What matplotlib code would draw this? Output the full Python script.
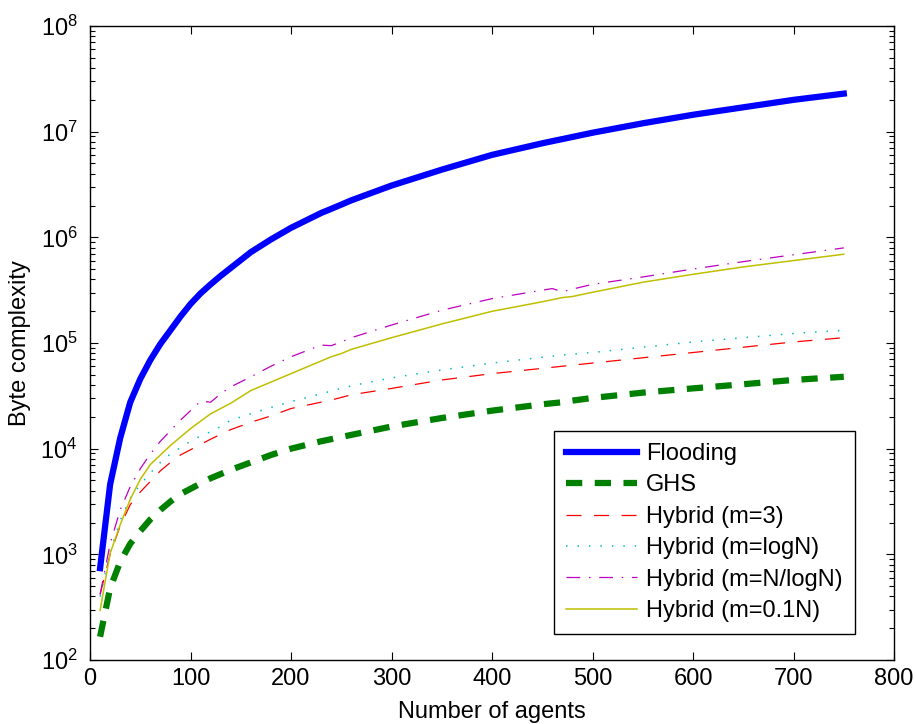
import matplotlib
matplotlib.use("Agg")
import matplotlib.pyplot as plt

plt.rcParams['font.family'] = ['Liberation Sans', 'DejaVu Sans']

# number of agents
N = [10, 20, 30, 40, 50, 60, 70, 80, 90, 100, 110, 120, 130, 140, 160, 180, 200,
     230, 240, 250, 260, 300, 350, 400, 450, 460, 470, 480, 500, 550, 600, 650, 700, 750]

flooding = [740, 4600, 12600, 27500, 45700, 69000, 98000, 132000, 178000, 234000,
            295000, 359000, 432000, 513000, 724000, 955000, 1230000, 1700000, 1860000,
            2040000, 2240000, 3090000, 4370000, 6030000, 7760000, 8130000, 8510000,
            8910000, 9770000, 12000000, 14450000, 17000000, 20000000, 22900000]
ghs = [166, 479, 851, 1260, 1660, 2140, 2630, 3160, 3720, 4170, 4680, 5250, 5750, 6310,
       7410, 8710, 10000, 11750, 12300, 12900, 13500, 16200, 19500, 22900, 26300, 26900,
       27500, 28500, 30200, 33900, 37200, 40700, 44700, 47900]
hyb_m3 = [417, 1000, 1860, 2950, 3890, 4900, 6170, 7410, 8710, 9770, 10960, 12300, 13650,
          15140, 17780, 20400, 23990, 27540, 28840, 30550, 32360, 37150, 44670, 51290,
          57540, 58880, 60260, 61660, 64570, 72440, 81280, 91200, 102300, 112200]
hyb_logn = [398, 1047, 2090, 3390, 4570, 5890, 7410, 8910, 10230, 11750, 13180, 14450,
            16220, 18620, 21380, 24550, 27860, 33110, 35080, 37150, 39360, 46770, 55590,
            64570, 73280, 75000, 76740, 78520, 81280, 91200, 102300, 112200, 123000, 131800]
hyb_nlogn = [417, 1259, 2630, 4370, 6460, 8910, 11750, 14790, 18620, 22910, 28180, 27540,
             33110, 38460, 47860, 60260, 74130, 95500, 94400, 102300, 112200, 147900,
             204200, 263000, 316200, 327300, 305500, 323600, 358900, 421700, 501200,
             588800, 683900, 794300]
hyb_01n = [295, 1023, 1905, 3311, 5129, 7079, 8710, 10720, 12880, 15490, 18200, 21380,
           23990, 26920, 35480, 42660, 51290, 67610, 74130, 79430, 87100, 112200, 151400,
           199500, 245500, 257000, 269200, 275400, 302000, 375800, 446700, 524800, 602600,
           691800]

fig = plt.figure(figsize=(9.16, 7.24), dpi=100)
ax = fig.add_axes([0.0983, 0.0884, 0.8777, 0.8757])

ax.plot(N, flooding, '-', color=(0, 0, 1), lw=4.5, label='Flooding')
ax.plot(N, ghs, '--', color=(0, 0.5, 0), lw=4.5, dashes=(2.6, 2.0), label='GHS')
ax.plot(N, hyb_m3, '--', color=(1, 0, 0), lw=0.9, dashes=(12, 10), label='Hybrid (m=3)')
ax.plot(N, hyb_logn, ':', color=(0, 0.75, 0.75), lw=1.1, dashes=(1, 6.5), label='Hybrid (m=logN)')
ax.plot(N, hyb_nlogn, '-.', color=(0.75, 0, 0.75), lw=0.9, dashes=(11, 7, 1.2, 7),
        label='Hybrid (m=N/logN)')
ax.plot(N, hyb_01n, '-', color=(0.75, 0.75, 0), lw=1.1, label='Hybrid (m=0.1N)')

ax.set_yscale('log')
ax.set_xlim(0, 800)
ax.set_ylim(1e2, 1e8)
ax.set_xticks(range(0, 801, 100))

ax.tick_params(which='both', direction='in', top=True, right=True, labelsize=17)
ax.tick_params(which='major', length=6, width=0.8)
ax.tick_params(which='minor', length=3.5, width=0.8)
ax.tick_params(axis='x', which='minor', bottom=False, top=False)
ax.tick_params(axis='x', pad=6)
ax.tick_params(axis='y', pad=9)
for s in ax.spines.values():
    s.set_linewidth(1.0)

ax.set_xlabel('Number of agents', fontsize=17)
ax.set_ylabel('Byte complexity', fontsize=17)
ax.xaxis.set_label_coords(0.5, -0.064)
ax.yaxis.set_label_coords(-0.074, 0.5)

leg = ax.legend(loc='lower right', bbox_to_anchor=(0.951, 0.041), borderaxespad=0,
                fontsize=17, handlelength=3.0, labelspacing=0.4, fancybox=False,
                framealpha=1, edgecolor='black', borderpad=0.5, handletextpad=0.4)
leg.get_frame().set_linewidth(1.0)

fig.savefig('out.png', dpi=100)
